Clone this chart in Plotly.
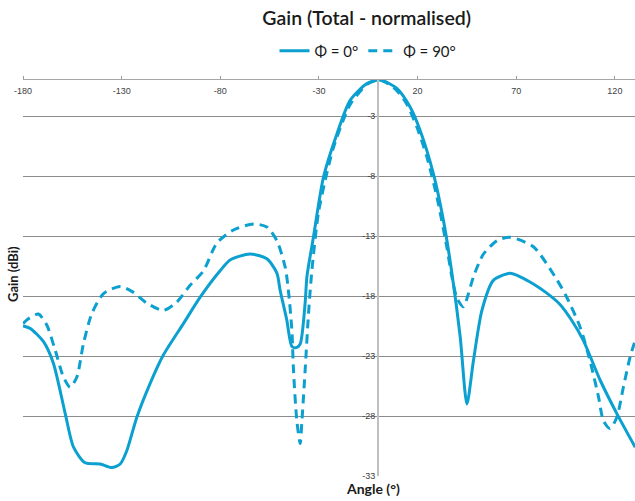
import plotly.graph_objects as go

# Φ = 0° (solid)
phi0_angle = [-180, -176.4, -169.6, -164.6, -158.6, -154.4, -148.5, -140.9, -135, -130.7,
              -127.4, -122.3, -115.6, -108.8, -98.7, -90.2, -80.1, -75, -64.9, -56.4,
              -51.3, -49.7, -46.3, -43.7, -41.5, -39.5, -37, -36.1, -32.8, -27.7,
              -20.9, -14.2, -5.7, 1, 9.5, 16.2, 21.3, 28, 33.1, 37.4,
              41.6, 45, 48.3, 52.6, 58.4, 66.9, 72, 78.7, 85, 92.2, 98, 104, 112.5, 121, 130.3]
phi0_gain = [-20.5, -20.7, -21.8, -23.6, -27.8, -30.6, -31.9, -32.0, -32.3, -32.0,
             -30.9, -28.1, -25.3, -22.9, -20.3, -18.1, -15.9, -15.0, -14.5, -14.9,
             -16.1, -17.5, -20.0, -22.2, -22.3, -22.0, -18.6, -16.4, -13.1, -8.1,
             -4.5, -1.7, -0.3, 0.0, -0.7, -2.25, -4.2, -7.8, -11.7, -16.1,
             -21.4, -27.0, -23.4, -19.2, -16.7, -16.1, -16.4, -17.0, -17.7, -18.7, -20.0, -21.7,
             -25.0, -27.8, -30.6]

# Φ = 90° (dashed)
phi90_angle = [-180, -177.3, -172.2, -168, -163.7, -159.5, -156.1, -152.7, -149.4, -145.2,
               -139.2, -130.7, -124, -117.2, -108.8, -102, -95.3, -88.5, -81.8, -73.3,
               -63.2, -56.4, -51.3, -47.1, -45.5, -43.7, -42.9, -41.2, -39.5, -38.7,
               -37, -35.3, -33.6, -30.3, -26.9, -22.6, -14, -5, 1, 9,
               14.5, 19.6, 24.7, 29.8, 34.8, 37.4, 40, 43.2, 45.8, 48.3,
               53.4, 60.2, 66.9, 78.7, 89.7, 95.6, 102.4, 107.4, 111.7, 114.2,
               117.6, 121, 124.3, 127.7, 130.3]
phi90_gain = [-20.3, -19.9, -19.5, -20.4, -22.5, -24.75, -25.6, -24.75, -22.0, -19.5,
              -17.8, -17.2, -17.7, -18.6, -19.2, -18.5, -17.1, -15.9, -13.6, -12.5,
              -12.0, -12.25, -13.4, -15.6, -17.5, -20.9, -24.2, -28.4, -30.3, -28.6,
              -24.2, -19.5, -15.9, -11.1, -8.4, -5.6, -2.0, -0.3, 0.0, -0.8,
              -2.0, -3.9, -6.4, -9.75, -13.9, -16.4, -18.2, -18.9, -17.8, -16.4,
              -14.5, -13.4, -13.1, -13.9, -16.4, -18.1, -20.6, -23.4, -26.4, -28.4,
              -29.05, -28.1, -25.6, -23.1, -21.7]

x_ticks = [-180, -130, -80, -30, 20, 70, 120]
y_ticks = [-3, -8, -13, -18, -23, -28, -33]
x_range = [-180, 130.2]
y_range = [-33, 0]

color = "#0BA0D0"
fig = go.Figure()
fig.add_trace(go.Scatter(x=phi0_angle, y=phi0_gain, mode="lines", name="Φ = 0°",
                         line=dict(color=color, width=3, shape="spline", smoothing=0.7)))
fig.add_trace(go.Scatter(x=phi90_angle, y=phi90_gain, mode="lines", name="Φ = 90°",
                         line=dict(color=color, width=3, dash="9px,6px", shape="spline", smoothing=0.7)))
# invisible trace so the label axis (x2) gets drawn
fig.add_trace(go.Scatter(x=phi0_angle, y=phi0_gain, xaxis="x2", mode="lines",
                         line=dict(width=0), opacity=0, showlegend=False, hoverinfo="skip"))

W, H = 635, 501
ml, mr, mt, mb = 23, 0, 80, 25
pw, ph = W - ml - mr, H - mt - mb
ypos = (0 - x_range[0]) / (x_range[1] - x_range[0])

fig.update_layout(
    width=W, height=H,
    margin=dict(l=ml, r=mr, t=mt, b=mb),
    paper_bgcolor="white", plot_bgcolor="white",
    font=dict(family="Liberation Sans", color="#404040"),
    title=dict(text="Gain (Total - normalised)", x=366.7 / W, xanchor="center",
               y=1 - 18 / H, yanchor="middle", xref="container", yref="container",
               font=dict(family="Lato", size=19.5, color="#1a1a1a", weight=600)),
    showlegend=True,
    legend=dict(orientation="h", x=(368 - ml) / pw, xanchor="center",
                y=(H - mb - 51) / ph, yanchor="middle",
                font=dict(family="Lato", size=15, color="#1a1a1a"),
                bgcolor="rgba(0,0,0,0)", itemwidth=30, tracegroupgap=0),
    xaxis=dict(range=x_range, side="top", tickvals=x_ticks, showticklabels=False,
               ticks="outside", ticklen=3, tickcolor="#999999",
               showline=True, linecolor="#a6a6a6", linewidth=1,
               showgrid=False, zeroline=False),
    xaxis2=dict(range=x_range, overlaying="x", anchor="free", position=1 - 4 / ph,
                side="bottom", tickvals=x_ticks, ticktext=[str(v) for v in x_ticks],
                ticks="", showline=False, showgrid=False, zeroline=False,
                tickfont=dict(size=9, color="#404040")),
    yaxis=dict(range=y_range, tickvals=y_ticks, ticktext=[str(v) for v in y_ticks],
               anchor="free", position=ypos, side="left",
               showline=True, linecolor="#bfbfbf", linewidth=2,
               showgrid=True, gridcolor="#8c8c8c", gridwidth=1,
               zeroline=False, ticks="",
               tickfont=dict(size=9, color="#404040")),
    annotations=[
        dict(text="<b>Gain (dBi)</b>", xref="paper", yref="paper",
             x=(13 - ml) / pw, y=(H - mb - 274) / ph, textangle=-90,
             showarrow=False, xanchor="center", yanchor="middle",
             font=dict(family="Lato", size=13, color="#1a1a1a")),
        dict(text="<b>Angle (°)</b>", xref="paper", yref="paper",
             x=(373 - ml) / pw, y=(H - mb - 488) / ph,
             showarrow=False, xanchor="center", yanchor="middle",
             font=dict(family="Lato", size=14, color="#1a1a1a")),
    ],
)

fig.write_html("out.html")
